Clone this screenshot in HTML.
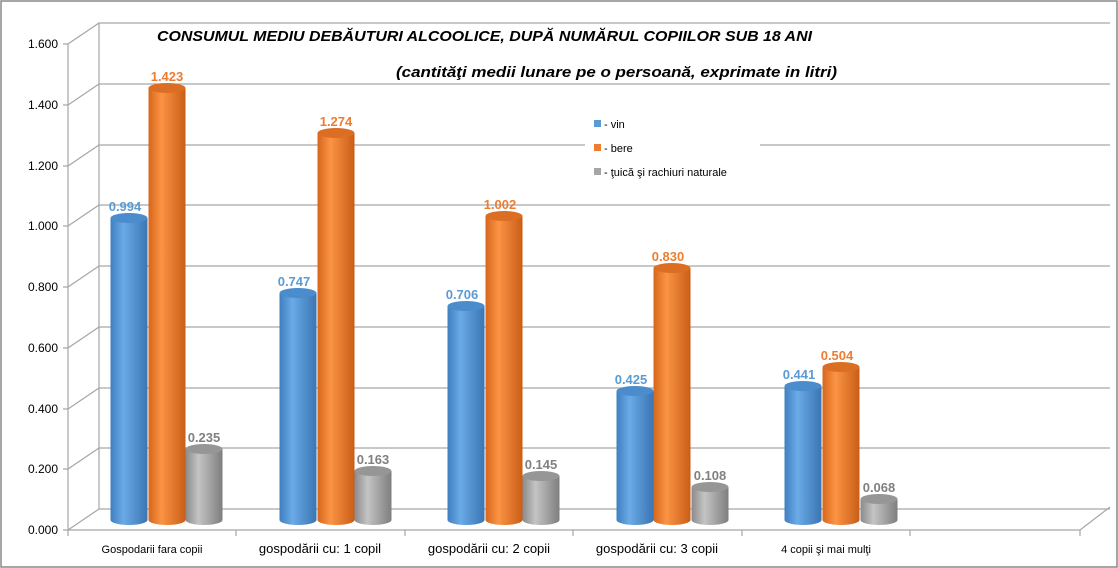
<!DOCTYPE html>
<html><head><meta charset="utf-8"><style>
html,body{margin:0;padding:0;background:#fff;}
svg{display:block;font-family:"Liberation Sans",sans-serif;}
</style></head><body>
<svg width="1118" height="568" viewBox="0 0 1118 568" xmlns="http://www.w3.org/2000/svg">
<defs>
<linearGradient id="gb" x1="0" x2="1" y1="0" y2="0"><stop offset="0" stop-color="#3f7fc0"/><stop offset="0.35" stop-color="#6aaae6"/><stop offset="1" stop-color="#3b75b3"/></linearGradient>
<linearGradient id="go" x1="0" x2="1" y1="0" y2="0"><stop offset="0" stop-color="#d6661c"/><stop offset="0.35" stop-color="#fb9444"/><stop offset="1" stop-color="#c95d17"/></linearGradient>
<linearGradient id="gg" x1="0" x2="1" y1="0" y2="0"><stop offset="0" stop-color="#8a8a8a"/><stop offset="0.35" stop-color="#c4c4c4"/><stop offset="1" stop-color="#7e7e7e"/></linearGradient>
</defs>
<rect x="1" y="1" width="1116" height="566" fill="#fff" stroke="#888" stroke-width="1.5"/>
<g stroke="#a6a6a6" stroke-width="1.2" fill="none">
<path d="M68,530 L68,44 L99,23 L1110,23"/>
<path d="M68,530 L1080,530 L1110,507"/>
<path d="M99,23 L99,509"/>
<path d="M68,469 L99,448 L1110,448"/>
<path d="M68,409 L99,388 L1110,388"/>
<path d="M68,348 L99,327 L1110,327"/>
<path d="M68,287 L99,266 L1110,266"/>
<path d="M68,226 L99,205 L1110,205"/>
<path d="M68,166 L99,145 L1110,145"/>
<path d="M68,105 L99,84 L1110,84"/>
<path d="M68,530 L99,509 L1110,509"/>
<path d="M63,530 H68 M63,469 H68 M63,409 H68 M63,348 H68 M63,287 H68 M63,226 H68 M63,166 H68 M63,105 H68 M63,44 H68"/>
<path d="M68,530 V536 M236,530 V536 M405,530 V536 M573,530 V536 M742,530 V536 M910,530 V536 M1080,530 V536"/>
</g>
<g font-size="12" fill="#000" text-anchor="end">
<text x="58" y="534">0.000</text><text x="58" y="473">0.200</text><text x="58" y="413">0.400</text>
<text x="58" y="352">0.600</text><text x="58" y="291">0.800</text><text x="58" y="230">1.000</text>
<text x="58" y="170">1.200</text><text x="58" y="109">1.400</text><text x="58" y="48">1.600</text>
</g>
<g font-size="12" fill="#000" text-anchor="middle">
<text x="152" y="553" font-size="11">Gospodarii fara copii</text>
<text x="320" y="553" font-size="13">gospodării cu: 1 copil</text>
<text x="489" y="553" font-size="13">gospodării cu: 2 copii</text>
<text x="657" y="553" font-size="13">gospodării cu: 3 copii</text>
<text x="826" y="553" font-size="11">4 copii şi mai mulţi</text>
</g>
<rect x="585" y="112" width="175" height="75" fill="#fff"/>
<rect x="594" y="120" width="7" height="7" fill="#5b9bd5"/>
<rect x="594" y="144" width="7" height="7" fill="#ed7d31"/>
<rect x="594" y="168" width="7" height="7" fill="#a5a5a5"/>
<g font-size="11" fill="#000"><text x="604" y="128">- vin</text><text x="604" y="152">- bere</text><text x="604" y="176">- ţuică şi rachiuri  naturale</text></g>
<text x="157" y="41" font-size="15" font-weight="bold" font-style="italic" textLength="655" lengthAdjust="spacingAndGlyphs">CONSUMUL MEDIU DEBĂUTURI ALCOOLICE, DUPĂ NUMĂRUL COPIILOR SUB 18 ANI</text>
<text x="396" y="77" font-size="15" font-weight="bold" font-style="italic" textLength="441" lengthAdjust="spacingAndGlyphs">(cantităţi medii lunare pe o persoană, exprimate in litri)</text>
<g id="bars">
<!-- cylinders: rect from top to 520, ellipse bottom, ellipse top -->
<g fill="url(#gb)">
<path d="M110.5,218 V520 A18.5,5 0 0 0 147.5,520 V218 Z"/><ellipse cx="129" cy="218" rx="18.5" ry="5" fill="#4a8ccc"/>
<path d="M279.5,293 V520 A18.5,5 0 0 0 316.5,520 V293 Z"/><ellipse cx="298" cy="293" rx="18.5" ry="5" fill="#4a8ccc"/>
<path d="M447.5,306 V520 A18.5,5 0 0 0 484.5,520 V306 Z"/><ellipse cx="466" cy="306" rx="18.5" ry="5" fill="#4a8ccc"/>
<path d="M616.5,391 V520 A18.5,5 0 0 0 653.5,520 V391 Z"/><ellipse cx="635" cy="391" rx="18.5" ry="5" fill="#4a8ccc"/>
<path d="M784.5,386 V520 A18.5,5 0 0 0 821.5,520 V386 Z"/><ellipse cx="803" cy="386" rx="18.5" ry="5" fill="#4a8ccc"/>
</g>
<g fill="url(#go)">
<path d="M148.5,88 V520 A18.5,5 0 0 0 185.5,520 V88 Z"/><ellipse cx="167" cy="88" rx="18.5" ry="5" fill="#dc6e24"/>
<path d="M317.5,133 V520 A18.5,5 0 0 0 354.5,520 V133 Z"/><ellipse cx="336" cy="133" rx="18.5" ry="5" fill="#dc6e24"/>
<path d="M485.5,216 V520 A18.5,5 0 0 0 522.5,520 V216 Z"/><ellipse cx="504" cy="216" rx="18.5" ry="5" fill="#dc6e24"/>
<path d="M653.5,268 V520 A18.5,5 0 0 0 690.5,520 V268 Z"/><ellipse cx="672" cy="268" rx="18.5" ry="5" fill="#dc6e24"/>
<path d="M822.5,367 V520 A18.5,5 0 0 0 859.5,520 V367 Z"/><ellipse cx="841" cy="367" rx="18.5" ry="5" fill="#dc6e24"/>
</g>
<g fill="url(#gg)">
<path d="M185.5,449 V520 A18.5,5 0 0 0 222.5,520 V449 Z"/><ellipse cx="204" cy="449" rx="18.5" ry="5" fill="#969696"/>
<path d="M354.5,471 V520 A18.5,5 0 0 0 391.5,520 V471 Z"/><ellipse cx="373" cy="471" rx="18.5" ry="5" fill="#969696"/>
<path d="M522.5,476 V520 A18.5,5 0 0 0 559.5,520 V476 Z"/><ellipse cx="541" cy="476" rx="18.5" ry="5" fill="#969696"/>
<path d="M691.5,487 V520 A18.5,5 0 0 0 728.5,520 V487 Z"/><ellipse cx="710" cy="487" rx="18.5" ry="5" fill="#969696"/>
<path d="M860.5,499 V520 A18.5,5 0 0 0 897.5,520 V499 Z"/><ellipse cx="879" cy="499" rx="18.5" ry="5" fill="#969696"/>
</g>
</g>
<g font-size="13" font-weight="bold" text-anchor="middle">
<g fill="#5b9bd5">
<text x="125" y="211">0.994</text><text x="294" y="286">0.747</text><text x="462" y="299">0.706</text><text x="631" y="384">0.425</text><text x="799" y="379">0.441</text>
</g>
<g fill="#ed7d31">
<text x="167" y="81">1.423</text><text x="336" y="126">1.274</text><text x="500" y="209">1.002</text><text x="668" y="261">0.830</text><text x="837" y="360">0.504</text>
</g>
<g fill="#808080">
<text x="204" y="442">0.235</text><text x="373" y="464">0.163</text><text x="541" y="469">0.145</text><text x="710" y="480">0.108</text><text x="879" y="492">0.068</text>
</g>
</g>
</svg>
</body></html>
